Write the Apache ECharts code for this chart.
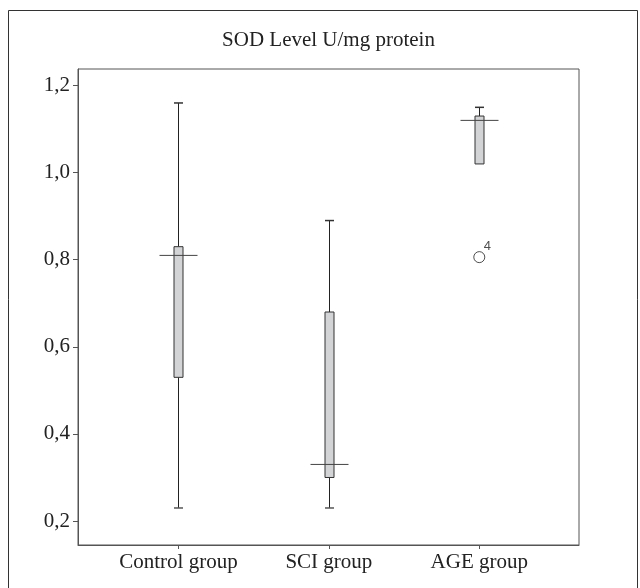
<!DOCTYPE html>
<html>
<head>
<meta charset="utf-8">
<script src="https://cdn.jsdelivr.net/npm/echarts@6/dist/echarts.min.js"></script>
<style>
  html, body { margin: 0; padding: 0; background: #fff; }
  #chart { width: 640px; height: 588px; }
</style>
</head>
<body>
<div id="chart"></div>
<script>
  // SOD level per group (U/mg protein)
  const categories = ['Control group', 'SCI group', 'AGE group'];
  const whiskerLow = [0.23, 0.23, 1.02];
  const q1 = [0.53, 0.30, 1.02];
  const median = [0.81, 0.33, 1.12];
  const q3 = [0.83, 0.68, 1.13];
  const whiskerHigh = [1.16, 0.89, 1.15];
  // outlier: group position, value, case label
  const outlierX = [3];
  const outlierY = [0.806];
  const outlierLabel = ['4'];
  const yTicks = [0.2, 0.4, 0.6, 0.8, 1.0, 1.2];

  const serif = '"Liberation Serif", "Times New Roman", serif';
  const lineColor = '#222';

  const boxData = categories.map((c, i) => [i + 1, whiskerLow[i], q1[i], median[i], q3[i], whiskerHigh[i]]);
  const outlierData = outlierX.map((x, i) => [x, outlierY[i], outlierLabel[i]]);

  const myChart = echarts.init(document.getElementById('chart'));

  const renderBox = (params, api) => {
    const x = api.value(0);
    const lo = api.coord([x, api.value(1)]);
    const b1 = api.coord([x, api.value(2)]);
    const md = api.coord([x, api.value(3)]);
    const b3 = api.coord([x, api.value(4)]);
    const hi = api.coord([x, api.value(5)]);
    const cx = Math.round(lo[0]) + 0.5;
    const boxW = 9;
    const capW = 9;
    const medW = 38;
    const lineStyle = { stroke: lineColor, lineWidth: 1 };
    const children = [
      { type: 'line', shape: { x1: cx, y1: hi[1], x2: cx, y2: b3[1] }, style: lineStyle },
      { type: 'line', shape: { x1: cx - capW / 2, y1: hi[1], x2: cx + capW / 2, y2: hi[1] }, style: { stroke: '#333', lineWidth: 1.5 } }
    ];
    if (lo[1] - b1[1] > 1) {
      children.push(
        { type: 'line', shape: { x1: cx, y1: b1[1], x2: cx, y2: lo[1] }, style: lineStyle },
        { type: 'line', shape: { x1: cx - capW / 2, y1: lo[1], x2: cx + capW / 2, y2: lo[1] }, style: { stroke: '#555', lineWidth: 1.5 } }
      );
    }
    children.push(
      {
        type: 'rect',
        shape: { x: cx - boxW / 2, y: b3[1], width: boxW, height: b1[1] - b3[1] },
        style: { fill: '#d3d4d6', stroke: '#333', lineWidth: 1 }
      },
      { type: 'line', shape: { x1: cx - medW / 2, y1: md[1], x2: cx + medW / 2, y2: md[1] }, style: { stroke: '#444', lineWidth: 1 } }
    );
    return { type: 'group', children };
  };

  myChart.setOption({
    animation: false,
    graphic: [
      {
        type: 'rect',
        shape: { x: 8.5, y: 10.5, width: 629, height: 600 },
        style: { fill: 'none', stroke: '#333', lineWidth: 1 },
        silent: true
      },
      {
        type: 'text',
        x: 328.5,
        y: 40,
        style: {
          text: 'SOD Level U/mg protein',
          font: '21px ' + serif,
          fill: '#222',
          align: 'center',
          verticalAlign: 'middle'
        }
      }
    ],
    grid: {
      left: 78,
      right: 61,
      top: 69,
      bottom: 43,
      show: true,
      borderColor: '#555',
      borderWidth: 1
    },
    xAxis: {
      type: 'value',
      min: 0.332,
      max: 3.663,
      splitLine: { show: false },
      axisLine: { show: true, lineStyle: { color: '#555' } },
      axisTick: { show: true, length: 4, customValues: [1, 2, 3], lineStyle: { color: '#555' } },
      axisLabel: {
        customValues: [1, 2, 3],
        formatter: (v) => categories[Math.round(v) - 1] || '',
        color: '#222',
        fontFamily: serif,
        fontSize: 21,
        margin: 7
      }
    },
    yAxis: {
      type: 'value',
      min: 0.145,
      max: 1.238,
      splitLine: { show: false },
      axisLine: { show: true, lineStyle: { color: '#555' } },
      axisTick: { show: true, length: 5, customValues: yTicks, lineStyle: { color: '#555' } },
      axisLabel: {
        customValues: yTicks,
        formatter: (v) => v.toFixed(1).replace('.', ','),
        color: '#222',
        fontFamily: serif,
        fontSize: 21,
        margin: 8
      }
    },
    series: [
      {
        type: 'custom',
        renderItem: renderBox,
        data: boxData,
        encode: { x: 0, y: [1, 2, 3, 4, 5] },
        silent: true
      },
      {
        type: 'scatter',
        data: outlierData,
        symbol: 'circle',
        symbolSize: 11,
        itemStyle: { color: '#fff', borderColor: '#222', borderWidth: 1 },
        label: {
          show: true,
          formatter: (p) => p.data[2],
          position: 'right',
          distance: 0,
          offset: [-1.5, -11],
          fontFamily: '"Liberation Sans", Arial, sans-serif',
          fontSize: 13,
          color: '#222'
        },
        silent: true
      }
    ]
  });

  window.addEventListener('resize', function () {
    myChart && myChart.resize();
  });
</script>
</body>
</html>
